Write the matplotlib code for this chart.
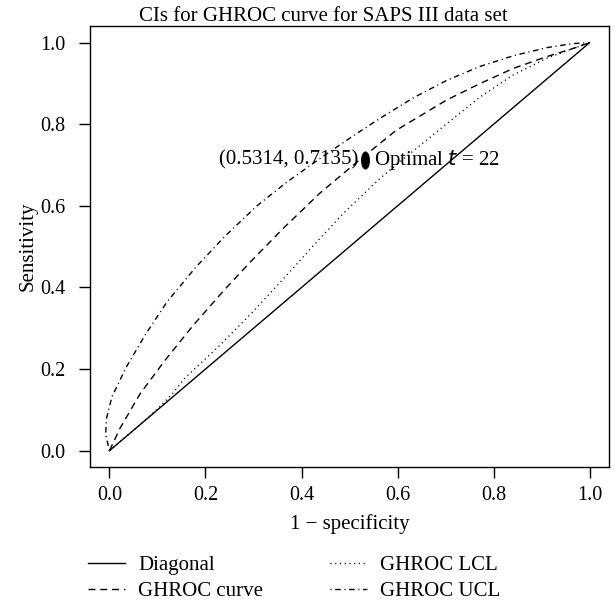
import matplotlib
matplotlib.use("Agg")
import matplotlib.pyplot as plt
from matplotlib.path import Path
from matplotlib.transforms import Affine2D

plt.rcParams['font.family'] = ['Liberation Serif', 'DejaVu Serif']

# values
diag_fpr = [0.0, 1.0]
diag_tpr = [0.0, 1.0]

ghroc_fpr = [0.0, 0.022, 0.064, 0.116, 0.175, 0.240, 0.293, 0.362, 0.439, 0.52,
             0.598, 0.703, 0.772, 0.841, 0.911, 0.966, 1.0]
ghroc_tpr = [0.0, 0.055, 0.14, 0.222, 0.308, 0.395, 0.462, 0.545, 0.632, 0.712,
             0.786, 0.860, 0.900, 0.937, 0.966, 0.986, 1.0]

lcl_fpr = [0.0, 0.05, 0.10, 0.13, 0.157, 0.227, 0.296, 0.366, 0.435, 0.49,
           0.564, 0.633, 0.703, 0.772, 0.841, 0.911, 0.966, 1.0]
lcl_tpr = [0.0, 0.05, 0.102, 0.138, 0.178, 0.255, 0.337, 0.426, 0.516, 0.585,
           0.668, 0.735, 0.802, 0.867, 0.921, 0.962, 0.986, 1.0]

ucl_fpr = [0.0, -0.008, -0.006, 0.005, 0.035, 0.075, 0.12, 0.18, 0.24, 0.307,
           0.369, 0.443, 0.508, 0.564, 0.633, 0.703, 0.772, 0.841, 0.911, 0.966, 1.0]
ucl_tpr = [0.0, 0.04, 0.08, 0.132, 0.205, 0.285, 0.365, 0.45, 0.525, 0.60,
           0.658, 0.72, 0.772, 0.815, 0.865, 0.908, 0.942, 0.968, 0.988, 0.998, 1.0]

opt_fpr = 0.5314
opt_tpr = 0.7135
opt_t = 22

ticks = [0.0, 0.2, 0.4, 0.6, 0.8, 1.0]
tick_labels = ["0.0", "0.2", "0.4", "0.6", "0.8", "1.0"]

fig = plt.figure(figsize=(6.15, 6.06), dpi=100)
ax = fig.add_axes([0.1468, 0.2294, 0.843, 0.727])

ax.plot(diag_fpr, diag_tpr, color='black', lw=1.0, label='Diagonal')
ax.plot(ghroc_fpr, ghroc_tpr, color='black', lw=1.0, dashes=(5, 3.5), label='GHROC curve')
ax.plot(lcl_fpr, lcl_tpr, color='black', lw=1.0, dashes=(0.8, 2.6), label='GHROC LCL')
ax.plot(ucl_fpr, ucl_tpr, color='black', lw=1.0, dashes=(0.8, 2.6, 4, 2.6), label='GHROC UCL')

# tall filled ellipse for the optimal point
ell = Path.unit_circle().transformed(Affine2D().scale(0.45, 1.0))
ax.plot([opt_fpr], [opt_tpr], marker=ell, markersize=12, color='black', ls='none')
ax.annotate("(%.4f, %.4f)" % (opt_fpr, opt_tpr), (opt_fpr, opt_tpr),
            xytext=(-4.5, 0), textcoords='offset points', ha='right', va='center', fontsize=15)
ax.annotate("Optimal $t$ = %d" % opt_t, (opt_fpr, opt_tpr),
            xytext=(6.5, 0), textcoords='offset points', ha='left', va='center', fontsize=15)

ax.set_xlim(-0.04, 1.04)
ax.set_ylim(-0.04, 1.04)
ax.set_xticks(ticks)
ax.set_xticklabels(tick_labels)
ax.set_yticks(ticks)
ax.set_yticklabels(tick_labels)
ax.tick_params(axis='both', direction='out', length=8, width=1, labelsize=14.5)
ax.tick_params(axis='x', pad=6)
ax.tick_params(axis='y', pad=10)
for s in ax.spines.values():
    s.set_linewidth(1.0)

ax.set_xlabel("1 \u2212 specificity", fontsize=15, labelpad=6)
ax.set_ylabel("Sensitivity", fontsize=15, labelpad=2)
ax.set_title("CIs for GHROC curve for SAPS III data set", fontsize=15, pad=1, x=0.449)

fig.legend(loc='upper left', bbox_to_anchor=(0.143, 0.083), ncol=2, frameon=False,
           fontsize=15, handlelength=1.8, handletextpad=0.6, columnspacing=3.2,
           labelspacing=0.3, borderpad=0, borderaxespad=0)

fig.savefig("out.png", dpi=100)
